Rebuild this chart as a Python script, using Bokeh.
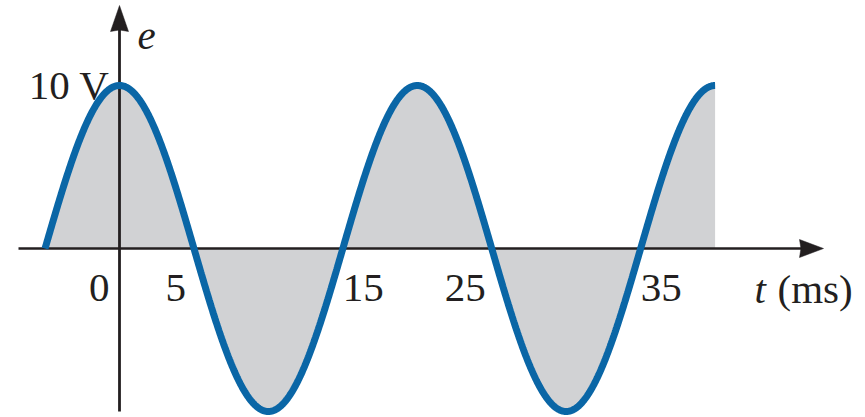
import numpy as np
from bokeh.plotting import figure
from bokeh.models import Label
from bokeh.embed import file_html
from bokeh.resources import INLINE

# Sinusoidal source voltage e(t) = Em * cos(2*pi*t / T)
peak_volts = 10.0
period_ms = 20.0
t_start_ms = -5.0
t_end_ms = 40.0

tick_values = [0, 5, 15, 25, 35]
tick_labels = ["0", "5", "15", "25", "35"]
peak_label = "10 V"
y_title = "e"
x_title_var = "t"
x_title_unit = "(ms)"

# ---- geometry of the drawing (pixels) ----
W, H = 865, 417
PX_PER_MS = 14.89
PX_PER_V = 16.3
ORIGIN_X, ORIGIN_Y = 119.0, 248.0          # screen position of t=0, e=0

def sx_to_t(px):
    return (px - ORIGIN_X) / PX_PER_MS

def sy_to_e(py):
    return (ORIGIN_Y - py) / PX_PER_V

BLUE = "#0a66a6"
GRAY = "#d1d2d4"
INK = "#231f20"
FONT = "Liberation Serif"
FSIZE = "41px"

p = figure(width=W, height=H, output_backend="svg", toolbar_location=None,
           x_range=(sx_to_t(0), sx_to_t(W)), y_range=(sy_to_e(H), sy_to_e(0)),
           min_border=0, outline_line_color=None, background_fill_color="white")
p.axis.visible = False
p.grid.visible = False

# waveform
t = np.linspace(t_start_ms, t_end_ms, 1200)
e = peak_volts * np.cos(2 * np.pi * t / period_ms)

p.varea(x=t, y1=np.zeros_like(t), y2=e, fill_color=GRAY)

# axes with arrowheads
t_axis_left, t_axis_tip = sx_to_t(18), sx_to_t(823)
e_axis_bottom, e_axis_tip = sy_to_e(411), sy_to_e(5)
head_len_h, head_half_h = 24 / PX_PER_MS, 9 / PX_PER_V
head_len_v, head_half_v = 26 / PX_PER_V, 9 / PX_PER_MS

p.line([t_axis_left, t_axis_tip - head_len_h * 0.8], [0, 0], line_color=INK, line_width=2.6)
p.line([0, 0], [e_axis_bottom, e_axis_tip - head_len_v * 0.8], line_color=INK, line_width=2.8)
p.patch([t_axis_tip, t_axis_tip - head_len_h, t_axis_tip - head_len_h * 0.94, t_axis_tip - head_len_h],
        [0, head_half_h, 0, -head_half_h], fill_color=INK, line_color=INK, line_width=0.5)
p.patch([0, head_half_v, 0, -head_half_v],
        [e_axis_tip, e_axis_tip - head_len_v, e_axis_tip - head_len_v * 0.94, e_axis_tip - head_len_v],
        fill_color=INK, line_color=INK, line_width=0.5)

p.line(t, e, line_color=BLUE, line_width=7)

# tick labels sit beside the zero crossings
tick_align = ["right", "right", "left", "right", "left"]
tick_dx = [-10, -8, 0, -6, 0]
for v, lab, al, dx in zip(tick_values, tick_labels, tick_align, tick_dx):
    p.add_layout(Label(x=v, y=0, text=lab, text_font=FONT, text_font_size=FSIZE,
                       text_align=al, text_baseline="alphabetic", text_color=INK,
                       x_offset=dx, y_offset=-39))

p.add_layout(Label(x=0, y=peak_volts, text=peak_label, text_font=FONT, text_font_size=FSIZE,
                   text_align="right", text_baseline="alphabetic", text_color=INK,
                   x_offset=-10, y_offset=1))

p.add_layout(Label(x=0, y=e_axis_tip, text=y_title, text_font=FONT, text_font_size=FSIZE,
                   text_font_style="italic", text_align="left", text_baseline="alphabetic",
                   text_color=INK, x_offset=18, y_offset=-30))

p.add_layout(Label(x=t_axis_tip, y=0, text=x_title_var, text_font=FONT, text_font_size=FSIZE,
                   text_font_style="italic", text_align="left", text_baseline="alphabetic",
                   text_color=INK, x_offset=-69, y_offset=-40))
p.add_layout(Label(x=t_axis_tip, y=0, text=x_title_unit, text_font=FONT, text_font_size=FSIZE,
                   text_align="left", text_baseline="alphabetic",
                   text_color=INK, x_offset=-46, y_offset=-40))

open("out.html", "w").write(file_html(p, INLINE))
